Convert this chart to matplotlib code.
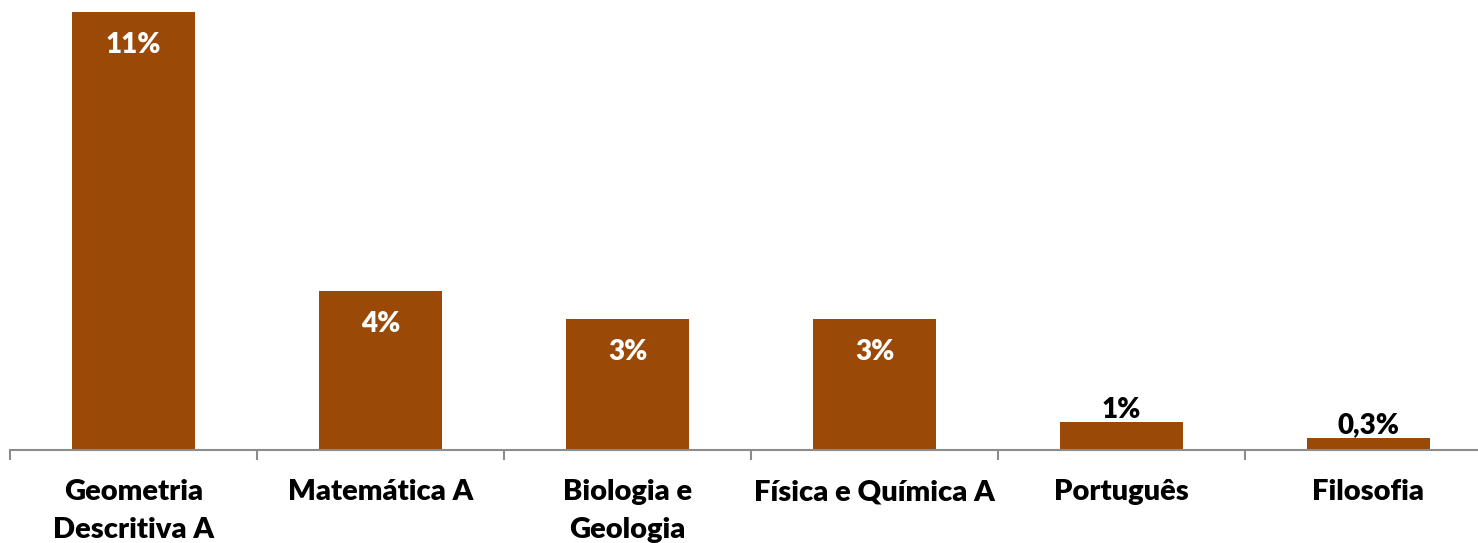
import matplotlib.pyplot as plt

# Dados
disciplinas = ['Geometria\nDescritiva A', 'Matemática A', 'Biologia e\nGeologia',
               'Física e Química A', 'Português', 'Filosofia']
valores = [11.0, 4.0, 3.3, 3.3, 0.7, 0.3]
rotulos = ['11%', '4%', '3%', '3%', '1%', '0,3%']

cor = '#9A4906'
plt.rcParams['font.family'] = ['Lato', 'DejaVu Sans']
peso = 'heavy'

fig = plt.figure(figsize=(14.78, 5.43), dpi=100)
ax = fig.add_axes([10 / 1478, 93 / 543, 1482 / 1478, 450 / 543])

x = list(range(len(valores)))
ax.bar(x, valores, width=0.5, color=cor)
ax.set_xlim(-0.5, 5.5)
ax.set_ylim(0, 11.3)

# Rótulos dos valores
for xi, v, r in zip(x, valores, rotulos):
    if v > 2:
        ax.annotate(r, (xi, v), xytext=(0, -24), textcoords='offset points',
                    ha='center', va='center', color='white', fontsize=20, fontweight=peso)
    else:
        ax.annotate(r, (xi, v), xytext=(0, 9), textcoords='offset points',
                    ha='center', va='center', color='black', fontsize=20, fontweight=peso)

# Eixos
for s in ['top', 'right', 'left']:
    ax.spines[s].set_visible(False)
ax.spines['bottom'].set_color('#8C8C8C')
ax.spines['bottom'].set_linewidth(1.5)
ax.set_yticks([])
ax.set_xticks([i - 0.5 for i in range(len(valores))], minor=False)
ax.set_xticklabels([])
ax.tick_params(axis='x', which='major', length=7, width=1.5, color='#8C8C8C')
ax.set_xticks(x, minor=True)
ax.set_xticklabels(disciplinas, minor=True, fontsize=21, fontweight=peso, linespacing=1.55)
ax.tick_params(axis='x', which='minor', length=0, pad=21)

fig.savefig('out.png', dpi=100)
